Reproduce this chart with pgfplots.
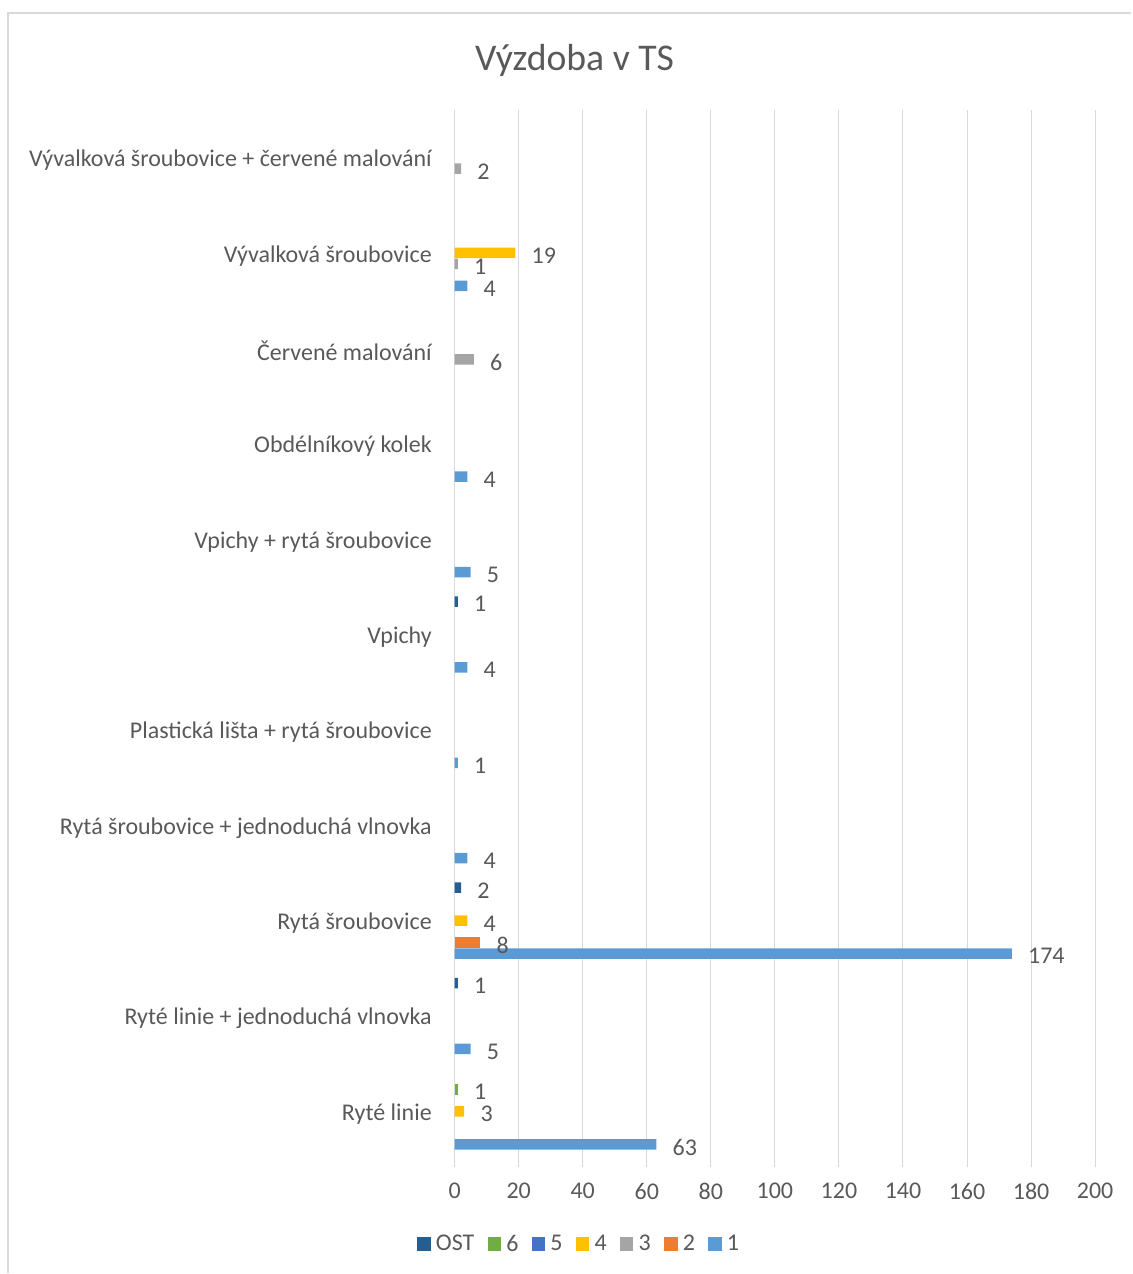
\documentclass[border=0pt]{standalone}
\usepackage{pgfplots}
\pgfplotsset{compat=1.18}
\usepackage{fontspec}
\setmainfont{Carlito}
\definecolor{txt}{HTML}{595959}
\definecolor{gridc}{HTML}{D9D9D9}
\definecolor{sA}{HTML}{5B9BD5}
\definecolor{sB}{HTML}{ED7D31}
\definecolor{sC}{HTML}{A5A5A5}
\definecolor{sD}{HTML}{FFC000}
\definecolor{sE}{HTML}{4472C4}
\definecolor{sF}{HTML}{70AD47}
\definecolor{sO}{HTML}{255E91}
\begin{document}
\begin{tikzpicture}
% page = 1132 x 1274 px, 1 px = 0.75 pt
\path (0,0) rectangle (849pt,955.5pt);
\draw[gridc, line width=1.5pt] (6pt,0) -- (6pt,945.75pt) -- (849pt,945.75pt);
\node[txt, font=\fontsize{28.3}{33}\selectfont] at (431.25pt,910pt) {Výzdoba v TS};
\begin{axis}[
  at={(341.25pt,85.5pt)}, anchor=south west,
  width=480.75pt, height=787.5pt, scale only axis,
  xmin=0, xmax=200, xtick distance=20,
  ymin=-0.5, ymax=10.5, ytick={0,...,10},
  yticklabels={{Ryté linie},{Ryté linie + jednoduchá vlnovka},{Rytá šroubovice},
    {Rytá šroubovice + jednoduchá vlnovka},{Plastická lišta + rytá šroubovice},
    {Vpichy},{Vpichy + rytá šroubovice},{Obdélníkový kolek},{Červené malování},
    {Vývalková šroubovice},{Vývalková šroubovice + červené malování}},
  axis x line*=bottom, axis y line*=left,
  x axis line style={draw=none},
  y axis line style={draw=gridc, line width=0.75pt},
  xmajorgrids, major grid style={gridc, line width=0.75pt},
  xtick align=outside, major tick length=6pt,
  xtick style={gridc, line width=0.75pt},
  ytick style={draw=none},
  tick label style={txt, font=\fontsize{18}{21}\selectfont},
  yticklabel style={anchor=east, inner sep=0pt, xshift=-11pt, yshift=-2pt},
  xticklabel style={inner sep=0pt, yshift=-12pt},
  /pgf/number format/assume math mode=true,
  xbar, bar width=0.11,
  nodes near coords,
  every node near coord/.append style={txt, font=\fontsize{18}{21}\selectfont, anchor=west, inner sep=0pt, xshift=12pt, yshift=-2pt},
  legend style={at={(0.195,-0.081)}, anchor=center, draw=none, fill=none,
    legend columns=7, font=\fontsize{18}{21}\selectfont, text=txt,
    /tikz/every odd column/.append style={column sep=2pt},
    /tikz/every even column/.append style={column sep=8pt}},
  legend cell align=left,
  legend image code/.code={\fill[#1] (0pt,-5pt) rectangle (10pt,5pt);},
]
\addplot[fill=sO, draw=none, bar shift=0.3456] coordinates {(1,1) (2,2) (1,5)};
\addlegendentry{OST}
\addplot[fill=sF, draw=none, bar shift=0.2304] coordinates {(1,0)};
\addlegendentry{6}
\addlegendimage{fill=sE, draw=none}
\addlegendentry{5}
\addplot[fill=sD, draw=none, bar shift=0] coordinates {(3,0) (4,2) (19,9)};
\addlegendentry{4}
\addplot[fill=sC, draw=none, bar shift=-0.1152] coordinates {(6,8) (1,9) (2,10)};
\addlegendentry{3}
\addplot[fill=sB, draw=none, bar shift=-0.2304] coordinates {(8,2)};
\addlegendentry{2}
\addplot[fill=sA, draw=none, bar shift=-0.3456] coordinates {(63,0) (5,1) (174,2) (4,3) (1,4) (4,5) (5,6) (4,7) (4,9)};
\addlegendentry{1}
\end{axis}
\end{tikzpicture}
\end{document}
